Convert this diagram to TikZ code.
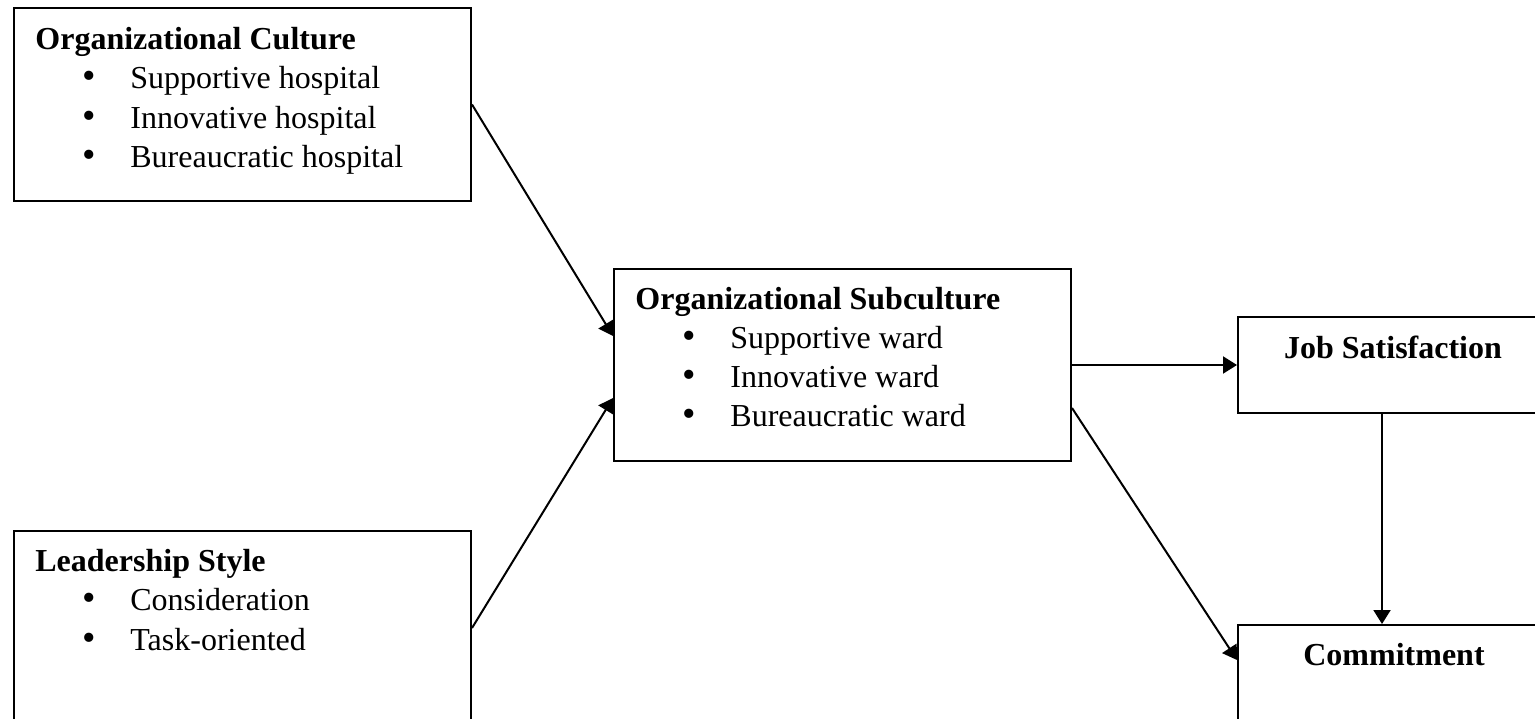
\documentclass[tikz,border=0pt]{standalone}
\usepackage{fontspec}
\setmainfont{Liberation Serif}
\usetikzlibrary{arrows.meta,calc,positioning}
\newcommand{\basefont}{\fontsize{16pt}{19.75pt}\selectfont}
\newcommand{\bul}{\makebox[47.5pt][l]{\hspace{23.5pt}\scalebox{1.2}{\textbullet}}}
\tikzset{
  box/.style={draw, line width=1pt, anchor=north west, inner sep=0pt},
  head/.style={font=\basefont\bfseries, anchor=base west, inner sep=0pt},
  headc/.style={font=\basefont\bfseries, anchor=base, inner sep=0pt},
  item/.style={font=\basefont, anchor=base west, inner sep=0pt},
  link/.style={-{Triangle[length=7pt,width=8.5pt]}, line width=1pt}
}

\begin{document}
\begin{tikzpicture}[x=0.5pt,y=-0.5pt]
  \clip (0,0) rectangle (1535,718);
  % boxes
  \node[box, minimum width=228.5pt, minimum height=96.5pt] (oc) at (13,7) {};
  \node[box, minimum width=228.5pt, minimum height=97pt] (ls) at (13,530) {};
  \node[box, minimum width=228.5pt, minimum height=96pt] (os) at (613,268) {};
  \node[box, minimum width=156pt, minimum height=48pt] (js) at (1237,316) {};
  \node[box, minimum width=156pt, minimum height=60pt] (cm) at (1237,624) {};
  % texts
  \node[head] (octitle) at ($(oc.north west)+(22,42)$) {Organizational Culture};
  \foreach \lab [count=\i] in {Supportive hospital,Innovative hospital,Bureaucratic hospital}
    \node[item] (oc\i) at ($(octitle.base west)+(0,39.5*\i)$) {\bul\lab};
  \node[head] (lstitle) at ($(ls.north west)+(22,41)$) {Leadership Style};
  \foreach \lab [count=\i] in {Consideration,Task-oriented}
    \node[item] (ls\i) at ($(lstitle.base west)+(0,39.5*\i)$) {\bul\lab};
  \node[head] (ostitle) at ($(os.north west)+(22,41)$) {Organizational Subculture};
  \foreach \lab [count=\i] in {Supportive ward,Innovative ward,Bureaucratic ward}
    \node[item] (os\i) at ($(ostitle.base west)+(0,39.2*\i)$) {\bul\lab};
  \node[headc] (jstitle) at ($(js.north west)+(156,42)$) {Job Satisfaction};
  \node[headc] (cmtitle) at ($(cm.north west)+(157,41)$) {Commitment};
  % arrows
  \draw[link] (oc.east) -- ([yshift=14.5pt]os.west);
  \draw[link] (ls.east) -- ([yshift=-16.5pt]os.west);
  \draw[link] (os.east) -- (js.west);
  \draw[link] ([yshift=-21.5pt]os.east) -- ([yshift=-18pt]cm.north west);
  \draw[link] ([xshift=72.5pt]js.south west) -- ([xshift=72.5pt]cm.north west);
\end{tikzpicture}
\end{document}
